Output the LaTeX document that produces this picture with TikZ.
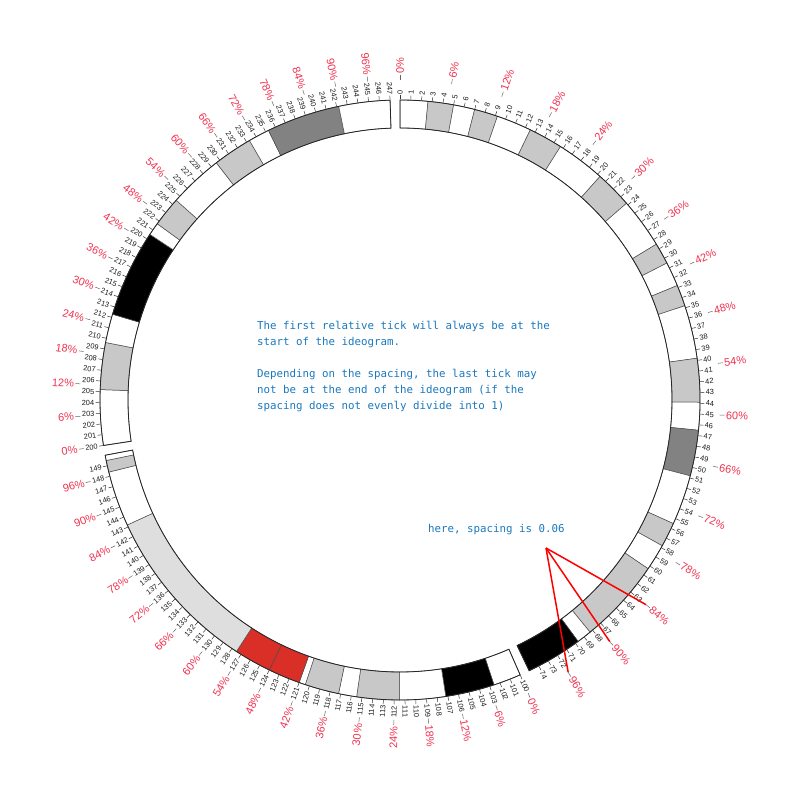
\documentclass[tikz,border=0pt]{standalone}
\usepackage{fontspec}
\setmainfont{Liberation Sans}
\newfontfamily\notefont{DejaVu Sans Mono}
\usetikzlibrary{positioning}

\definecolor{pcred}{RGB}{240,50,80}
\definecolor{noteblue}{RGB}{25,120,190}
\definecolor{acen}{RGB}{217,47,39}
\definecolor{gposA}{RGB}{200,200,200}
\definecolor{gposB}{RGB}{222,222,222}
\definecolor{gposC}{RGB}{130,130,130}

% degrees per unit, ring radii
\def\kscale{2.06}
\def\rin{272}
\def\rout{300}

% #1 start angle, #2 first position, #3 from, #4 to, #5 fill
\newcommand{\cband}[5]{%
  \pgfmathsetmacro\pha{90-#1-\kscale*(#3-#2)}%
  \pgfmathsetmacro\phb{90-#1-\kscale*(#4-#2)}%
  \filldraw[band, fill=#5] (\pha:\rin) arc[start angle=\pha, end angle=\phb, radius=\rin]
    -- (\phb:\rout) arc[start angle=\phb, end angle=\pha, radius=\rout] -- cycle;}

% #1 start angle, #2 length
\newcommand{\ideoshape}[2]{%
  \pgfmathsetmacro\pha{90-#1}%
  \pgfmathsetmacro\phb{90-#1-\kscale*#2}%
  \draw[ideo] (\pha:\rin) arc[start angle=\pha, end angle=\phb, radius=\rin]
    -- (\phb:\rout) arc[start angle=\phb, end angle=\pha, radius=\rout] -- cycle;}

% #1 start angle, #2 first, #3 last
\newcommand{\numticks}[3]{%
  \foreach \p in {#2,...,#3}{
    \pgfmathsetmacro\ph{90-#1-\kscale*(\p-#2)}
    \draw[tickline] (\ph:300.5) -- (\ph:304.5);
    \ifdim\ph pt<-90pt
      \node[numlabel, rotate=\ph+180, anchor=east] (n\p) at (\ph:305.5) {\p};
    \else
      \node[numlabel, rotate=\ph, anchor=west] (n\p) at (\ph:305.5) {\p};
    \fi
  }}

% #1 id, #2 start angle, #3 length
\newcommand{\pcticks}[3]{%
  \foreach \k in {0,...,16}{
    \pgfmathsetmacro\ph{90-#2-\kscale*0.06*\k*#3}
    \pgfmathtruncatemacro\pc{6*\k}
    \coordinate (pc#1-\k) at (\ph:320);
    \draw[pctick] (\ph:320) -- (\ph:325);
    \ifdim\ph pt<-90pt
      \node[pclabel, rotate=\ph+180, anchor=east] (pl#1-\k) at (\ph:326) {\pc\%};
    \else
      \node[pclabel, rotate=\ph, anchor=west] (pl#1-\k) at (\ph:326) {\pc\%};
    \fi
  }}

\begin{document}
\begin{tikzpicture}[x=1pt, y=1pt,
    band/.style={draw=black!70, line width=0.5pt},
    ideo/.style={draw=black!85, line width=0.8pt},
    tickline/.style={black!80, line width=0.5pt},
    numlabel/.style={font=\fontsize{7.4}{8}\selectfont, text=black!90, inner sep=0.2pt},
    pctick/.style={black!60, line width=0.5pt},
    pclabel/.style={font=\fontsize{11}{12}\selectfont, text=pcred, inner sep=0.2pt},
    note/.style={font=\notefont\fontsize{10.8}{16}\selectfont, text=noteblue, align=left, inner sep=0pt},
    leader/.style={red, line width=1.5pt}
  ]
  \useasboundingbox (-400,-400) rectangle (400,400);

  % first ideogram 0..75
  \foreach \a/\b/\c in {0/2.6/white, 2.6/5.0/gposA, 5.0/7.0/white, 7.0/9.2/gposA,
      9.2/12.5/white, 12.5/15.7/gposA, 15.7/20.3/white, 20.3/23.8/gposA,
      23.8/28.5/white, 28.5/30.5/gposA, 30.5/32.8/white, 32.8/34.8/gposA,
      34.8/39.8/white, 39.8/43.9/gposA, 43.9/46.5/white, 46.5/50.8/gposC,
      50.8/55.5/white, 55.5/57.8/gposA, 57.8/60.3/white, 60.3/68.3/gposA,
      68.3/69.7/white, 69.7/75/black}
    \cband{0}{0}{\a}{\b}{\c};
  \ideoshape{0}{75}

  % second ideogram 100..150
  \foreach \a/\b/\c in {100/102.6/white, 102.6/107.2/black, 107.2/111.5/white,
      111.5/115.5/gposA, 115.5/117.2/white, 117.2/120.4/gposA, 120.4/121/white,
      121/124/acen, 124/127.5/acen, 127.5/143.2/gposB, 143.2/148.4/white,
      148.4/149.5/gposA, 149.5/150/white}
    \cband{156.39}{100}{\a}{\b}{\c};
  \ideoshape{156.39}{50}

  % third ideogram 200..247
  \foreach \a/\b/\c in {200/205.2/white, 205.2/209.6/gposA, 209.6/212.3/white,
      212.3/220.5/black, 220.5/221.7/white, 221.7/224.5/gposA, 224.5/229.6/white,
      229.6/233.3/gposA, 233.3/235.3/white, 235.3/242.2/gposC, 242.2/247/white}
    \cband{261.28}{200}{\a}{\b}{\c};
  \ideoshape{261.28}{47}

  \numticks{0}{0}{74}
  \numticks{156.39}{100}{149}
  \numticks{261.28}{200}{247}

  \pcticks{1}{0}{75}
  \pcticks{2}{156.39}{50}
  \pcticks{3}{261.28}{47}

  \node[note, anchor=north west] (rule) at (-143,79) {The first relative tick will always be at the\\
    start of the ideogram.\\[16pt]
    Depending on the spacing, the last tick may\\
    not be at the end of the ideogram (if the\\
    spacing does not evenly divide into 1)};
  \node[note, anchor=west] (spacing) at (28,-130) {here, spacing is 0.06};

  \coordinate (lead) at (146,-148);
  \draw[leader] (lead) -- (pc1-14);
  \draw[leader] (lead) -- (pc1-15);
  \draw[leader] (lead) -- (pc1-16);
\end{tikzpicture}
\end{document}
